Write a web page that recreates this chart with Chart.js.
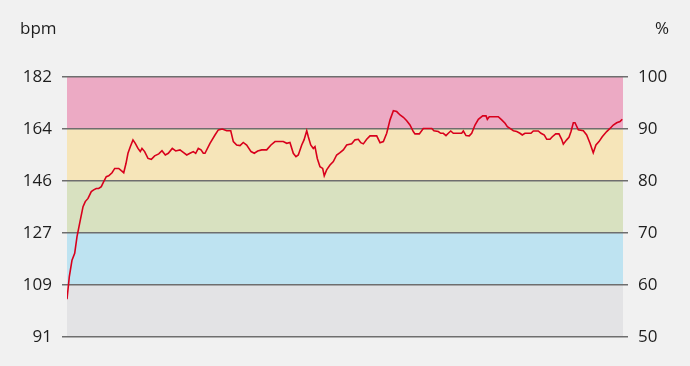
<!DOCTYPE html>
<html>
<head>
<meta charset="utf-8">
<script src="https://cdn.jsdelivr.net/npm/chart.js@4"></script>
<style>
  html, body { margin: 0; padding: 0; background: #f1f1f1; }
  canvas { display: block; }
</style>
</head>
<body>
<canvas id="chart" width="690" height="366"></canvas>
<script>
// heart rate recording, minutes vs bpm
const maxHr = 182;
const minutes = [
  0.0, 0.25, 0.54, 0.83, 1.08, 1.44, 1.73, 1.97, 2.27, 2.62, 2.88, 3.16, 3.42, 3.70, 3.96,
  4.24, 4.50, 4.86, 5.15, 5.58, 5.86, 6.12, 6.37, 6.58, 6.83, 7.12, 7.37, 7.66, 7.91, 8.09,
  8.38, 8.74, 9.10, 9.46, 9.90, 10.25, 10.61, 10.93, 11.36, 11.73, 12.19, 12.55, 12.92, 13.27, 13.63,
  13.89, 14.17, 14.46, 14.71, 14.89, 15.43, 15.97, 16.33, 16.76, 17.23, 17.67, 17.95, 18.31, 18.67, 19.02,
  19.39, 19.86, 20.21, 20.58, 21.01, 21.55, 22.01, 22.45, 23.34, 23.71, 24.06, 24.42, 24.71, 24.96, 25.33,
  25.58, 25.87, 26.04, 26.30, 26.58, 26.76, 27.01, 27.30, 27.59, 27.76, 28.02, 28.38, 28.74, 29.10, 29.46,
  29.82, 30.18, 30.72, 31.08, 31.44, 31.70, 31.98, 32.34, 32.70, 33.42, 33.78, 34.14, 34.50, 34.86, 35.22,
  35.58, 35.94, 36.30, 36.66, 37.01, 37.37, 37.55, 38.02, 38.45, 39.36, 39.60, 40.07, 40.33, 40.61, 40.90,
  41.15, 41.41, 41.69, 42.59, 42.77, 43.06, 43.41, 43.67, 44.03, 44.39, 44.86, 45.22, 45.36, 45.57, 46.54,
  46.91, 47.27, 47.52, 47.81, 48.17, 48.53, 48.88, 49.13, 49.42, 50.07, 50.32, 50.86, 51.15, 51.51, 51.77,
  52.12, 52.37, 52.74, 53.09, 53.38, 53.56, 53.92, 54.17, 54.39, 54.64, 54.82, 55.18, 55.72, 56.08, 56.44,
  56.79, 57.08, 57.41, 57.76, 58.24, 58.60, 58.95, 59.32, 59.68, 59.92
];
const heartRate = [
  104.2, 112.1, 117.9, 120.3, 126.1, 132.0, 136.6, 138.4, 139.5, 141.9, 142.5, 143.0, 143.0, 143.6, 145.4,
  147.1, 147.4, 148.5, 150.0, 150.0, 149.2, 148.5, 151.8, 155.3, 157.6, 160.0, 158.8, 157.0, 155.9, 157.0,
  155.9, 153.5, 153.2, 154.4, 155.1, 156.2, 154.7, 155.3, 157.0, 156.1, 156.5, 155.6, 154.7, 155.3, 155.9,
  155.3, 157.0, 156.5, 155.3, 155.3, 158.8, 161.7, 163.5, 163.8, 163.2, 163.2, 159.4, 158.2, 158.0, 159.1,
  158.2, 155.9, 155.3, 156.1, 156.5, 156.5, 158.2, 159.4, 159.4, 158.8, 159.1, 155.3, 154.1, 154.7, 158.2,
  160.0, 163.2, 161.1, 158.2, 157.0, 157.6, 153.5, 150.6, 150.0, 147.4, 149.5, 151.2, 152.4, 154.7, 155.5,
  156.5, 158.2, 158.6, 160.0, 160.2, 159.0, 158.6, 160.2, 161.4, 161.4, 159.0, 159.4, 162.3, 167.0, 170.2,
  169.9, 168.7, 167.9, 166.7, 165.2, 162.9, 162.1, 162.1, 164.0, 164.0, 163.2, 162.9, 162.3, 162.3, 161.5,
  162.3, 163.1, 162.3, 162.3, 163.1, 161.5, 161.4, 162.3, 165.2, 167.2, 168.4, 168.4, 167.2, 168.1, 168.1,
  167.0, 165.8, 164.6, 164.0, 163.2, 162.9, 162.3, 161.7, 162.3, 162.3, 163.1, 163.1, 162.3, 161.7, 160.2,
  160.2, 161.1, 162.1, 162.1, 160.2, 158.5, 160.0, 160.9, 162.9, 166.0, 166.0, 163.5, 163.2, 161.7, 158.8,
  155.5, 158.2, 159.4, 161.1, 162.9, 164.0, 165.2, 166.0, 166.4, 167.2
];
const pctTicks = [50, 60, 70, 80, 90, 100];
const bpmTicks = [91, 109, 127, 146, 164, 182];
const zoneColors = ["#e3e3e5", "#bee3f1", "#d8e1c0", "#f6e5b9", "#ecaac4"];

const tickFont = { family: "'Open Sans', sans-serif", size: 17 };
const textColor = "#1e1e1e";
const gridColor = "#6e6e6e";

const zonesPlugin = {
  id: "zones",
  beforeDraw(chart) {
    const { ctx, chartArea } = chart;
    const s = chart.scales.y2;
    ctx.save();
    for (let i = 0; i < zoneColors.length; i++) {
      const top = s.getPixelForValue(pctTicks[i + 1]);
      const bottom = s.getPixelForValue(pctTicks[i]);
      ctx.fillStyle = zoneColors[i];
      ctx.fillRect(chartArea.left, top, chartArea.right - chartArea.left, bottom - top);
    }
    ctx.restore();
  },
  afterDraw(chart) {
    const { ctx } = chart;
    ctx.save();
    ctx.font = "17px 'Open Sans', sans-serif";
    ctx.fillStyle = textColor;
    ctx.textBaseline = "alphabetic";
    ctx.textAlign = "left";
    ctx.fillText("bpm", 20, 34);
    ctx.textAlign = "right";
    ctx.fillText("%", 669, 34);
    ctx.restore();
  }
};

const ctx = document.getElementById("chart").getContext("2d");

const chart = new Chart(ctx, {
  type: "line",
  data: {
    datasets: [
      {
        label: "Heart rate",
        data: minutes.map((m, i) => ({ x: m, y: heartRate[i] })),
        borderColor: "#d8001c",
        borderWidth: 1.6,
        pointRadius: 0,
        tension: 0,
        fill: false,
        yAxisID: "y"
      }
    ]
  },
  options: {
    responsive: false,
    animation: false,
    layout: { padding: { top: 77, bottom: 29, left: 0, right: 0 } },
    plugins: {
      legend: { display: false },
      tooltip: { enabled: false }
    },
    scales: {
      x: {
        type: "linear",
        min: 0,
        max: 60,
        display: false
      },
      y: {
        position: "left",
        min: maxHr / 2,
        max: maxHr,
        afterBuildTicks(scale) {
          scale.ticks = pctTicks.map(p => ({ value: p / 100 * maxHr }));
        },
        afterFit(scale) { scale.width = 67; },
        border: { display: false },
        grid: { color: gridColor, lineWidth: 1.5, tickLength: 5 },
        ticks: {
          padding: 10,
          font: tickFont,
          color: textColor,
          callback: (v, i) => bpmTicks[i]
        }
      },
      y2: {
        position: "right",
        min: 50,
        max: 100,
        afterBuildTicks(scale) {
          scale.ticks = pctTicks.map(p => ({ value: p }));
        },
        afterFit(scale) { scale.width = 67; },
        border: { display: false },
        grid: { drawOnChartArea: false, color: gridColor, lineWidth: 1.5, tickLength: 5 },
        ticks: { padding: 10, font: tickFont, color: textColor }
      }
    }
  },
  plugins: [zonesPlugin]
});
</script>
</body>
</html>
